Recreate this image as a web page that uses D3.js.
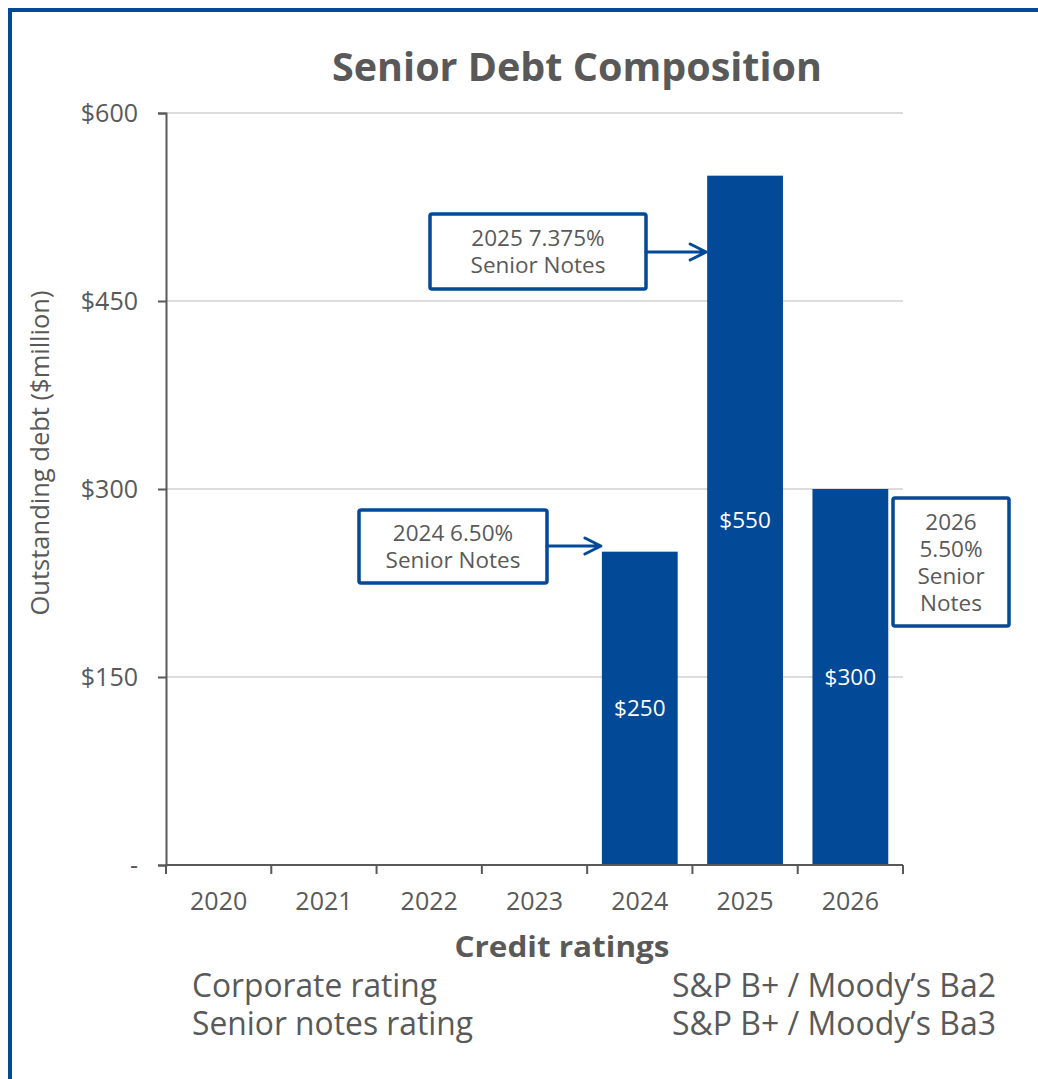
<!DOCTYPE html>
<html>
<head>
<meta charset="utf-8">
<script src="https://cdn.jsdelivr.net/npm/d3@7"></script>
<style>
  body { margin: 0; background: #fff; }
  svg { display: block; font-family: "Open Sans", sans-serif; }
</style>
</head>
<body>
<div id="chart"></div>
<script>
const years = ["2020", "2021", "2022", "2023", "2024", "2025", "2026"]
const debt = [null, null, null, null, 250, 550, 300]
const yTicks = [0, 150, 300, 450, 600]
const noteYears = ["2024", "2025", "2026"]
const noteLines = [["2024 6.50%", "Senior Notes"], ["2025 7.375%", "Senior Notes"], ["2026", "5.50%", "Senior", "Notes"]]
const ratingNames = ["Corporate rating", "Senior notes rating"]
const ratingValues = ["S&P B+ / Moody\u2019s Ba2", "S&P B+ / Moody\u2019s Ba3"]

const W = 1038, H = 1079
const BLUE = "#024a97", GREY = "#595959"
const MARGIN = { TOP: 113, LEFT: 166, RIGHT: 135, BOTTOM: 214 }

const svg = d3.select("#chart").append("svg")
  .attr("width", W).attr("height", H)

// frame
svg.append("rect")
  .attr("x", 10).attr("y", 10)
  .attr("width", W + 20).attr("height", H + 20)
  .attr("fill", "none").attr("stroke", BLUE).attr("stroke-width", 4)

const x = d3.scaleBand().domain(years)
  .range([MARGIN.LEFT, W - MARGIN.RIGHT])
  .paddingInner(0.28).paddingOuter(0.14)
const y = d3.scaleLinear().domain([0, 600])
  .range([H - MARGIN.BOTTOM, MARGIN.TOP])

// gridlines
svg.append("g").selectAll("line")
  .data(yTicks.filter(d => d > 0))
  .join("line")
    .attr("x1", MARGIN.LEFT).attr("x2", W - MARGIN.RIGHT)
    .attr("y1", d => y(d)).attr("y2", d => y(d))
    .attr("stroke", "#d0d0d0").attr("stroke-width", 1.5)

// bars
const barData = years.map((yr, i) => ({ yr, v: debt[i] })).filter(d => d.v != null)
svg.append("g").selectAll("rect")
  .data(barData)
  .join("rect")
    .attr("x", d => x(d.yr))
    .attr("y", d => y(d.v))
    .attr("width", x.bandwidth())
    .attr("height", d => y(0) - y(d.v))
    .attr("fill", BLUE)

svg.append("g").selectAll("text")
  .data(barData)
  .join("text")
    .attr("x", d => x(d.yr) + x.bandwidth() / 2)
    .attr("y", d => y(d.v / 2) + 8)
    .attr("text-anchor", "middle")
    .attr("fill", "#fff").attr("font-size", 22.5)
    .text(d => "$" + d.v)

// axes
const yAxis = svg.append("g")
  .attr("transform", `translate(${MARGIN.LEFT},0)`)
  .call(d3.axisLeft(y).tickValues(yTicks).tickSize(8).tickPadding(20)
    .tickFormat(d => d === 0 ? "-" : "$" + d))
const xEdges = years.map(yr => x(yr) - x.step() * x.paddingInner() / 2)
xEdges.push(W - MARGIN.RIGHT)
const xAxis = svg.append("g")
  .attr("transform", `translate(0,${y(0)})`)
  .call(d3.axisBottom(x).tickSize(0).tickPadding(30))
xAxis.selectAll(".edge").data(xEdges).join("line")
  .attr("class", "edge")
  .attr("x1", d => d).attr("x2", d => d)
  .attr("y1", 0).attr("y2", 9)
  .attr("stroke", GREY).attr("stroke-width", 2)
xAxis.select(".domain").attr("d", `M${MARGIN.LEFT},0H${W - MARGIN.RIGHT}`)

for (const ax of [xAxis, yAxis]) {
  ax.select(".domain").attr("stroke", GREY).attr("stroke-width", 2)
  ax.selectAll(".tick line").attr("stroke", GREY).attr("stroke-width", 2)
  ax.selectAll("text").attr("fill", GREY).attr("font-size", 25)
    .attr("font-family", "Open Sans, sans-serif")
}
xAxis.selectAll(".tick text").attr("dy", "0.6em")

// title and axis titles
svg.append("text")
  .attr("x", 577).attr("y", 81)
  .attr("text-anchor", "middle")
  .attr("font-size", 39.5).attr("font-weight", 700).attr("fill", GREY)
  .text("Senior Debt Composition")

svg.append("text")
  .attr("transform", `translate(49,${(y(0) + y(600)) / 2 - 36}) rotate(-90)`)
  .attr("text-anchor", "middle")
  .attr("font-size", 25.5).attr("fill", GREY)
  .text("Outstanding debt ($million)")

// annotation boxes with arrows
const lineH = 27
const boxes = [
  { x0: 359, x1: 547, y0: 510, y1: 583, arrowTo: x("2024"), arrowY: 546 },
  { x0: 430, x1: 646, y0: 214, y1: 289, arrowTo: x("2025"), arrowY: 252 },
  { x0: 893, x1: 1009, y0: 498, y1: 626, arrowTo: null }
]
noteYears.forEach((yr, i) => {
  const b = boxes[i]
  const g = svg.append("g")
  g.append("rect")
    .attr("x", b.x0).attr("y", b.y0)
    .attr("width", b.x1 - b.x0).attr("height", b.y1 - b.y0)
    .attr("rx", 2)
    .attr("fill", "#fff").attr("stroke", BLUE).attr("stroke-width", 3.5)
  const lines = noteLines[i]
  const cy = (b.y0 + b.y1) / 2
  g.selectAll("text").data(lines).join("text")
    .attr("x", (b.x0 + b.x1) / 2)
    .attr("y", (d, j) => cy + (j - (lines.length - 1) / 2) * lineH + 8)
    .attr("text-anchor", "middle")
    .attr("font-size", 22.5).attr("fill", GREY)
    .text(d => d)
  if (b.arrowTo != null) {
    const tip = b.arrowTo - 1
    g.append("path")
      .attr("d", `M${b.x1},${b.arrowY}H${tip}M${tip - 16},${b.arrowY - 8}L${tip},${b.arrowY}L${tip - 16},${b.arrowY + 8}`)
      .attr("fill", "none").attr("stroke", BLUE).attr("stroke-width", 3)
      .attr("stroke-linecap", "round").attr("stroke-linejoin", "round")
  }
})

// credit ratings block
svg.append("text")
  .attr("x", 562).attr("y", 957)
  .attr("text-anchor", "middle")
  .attr("font-size", 28).attr("font-weight", 700).attr("fill", GREY)
  .attr("textLength", 215).attr("lengthAdjust", "spacingAndGlyphs")
  .text("Credit ratings")

const nameWidths = [245, 281]
ratingNames.forEach((name, i) => {
  const by = 997 + i * 38
  svg.append("text")
    .attr("x", 192).attr("y", by)
    .attr("font-size", 32).attr("fill", GREY)
    .attr("textLength", nameWidths[i]).attr("lengthAdjust", "spacingAndGlyphs")
    .text(name)
  svg.append("text")
    .attr("x", 672).attr("y", by)
    .attr("font-size", 32).attr("fill", GREY)
    .attr("textLength", 324).attr("lengthAdjust", "spacingAndGlyphs")
    .text(ratingValues[i])
})
</script>
</body>
</html>
